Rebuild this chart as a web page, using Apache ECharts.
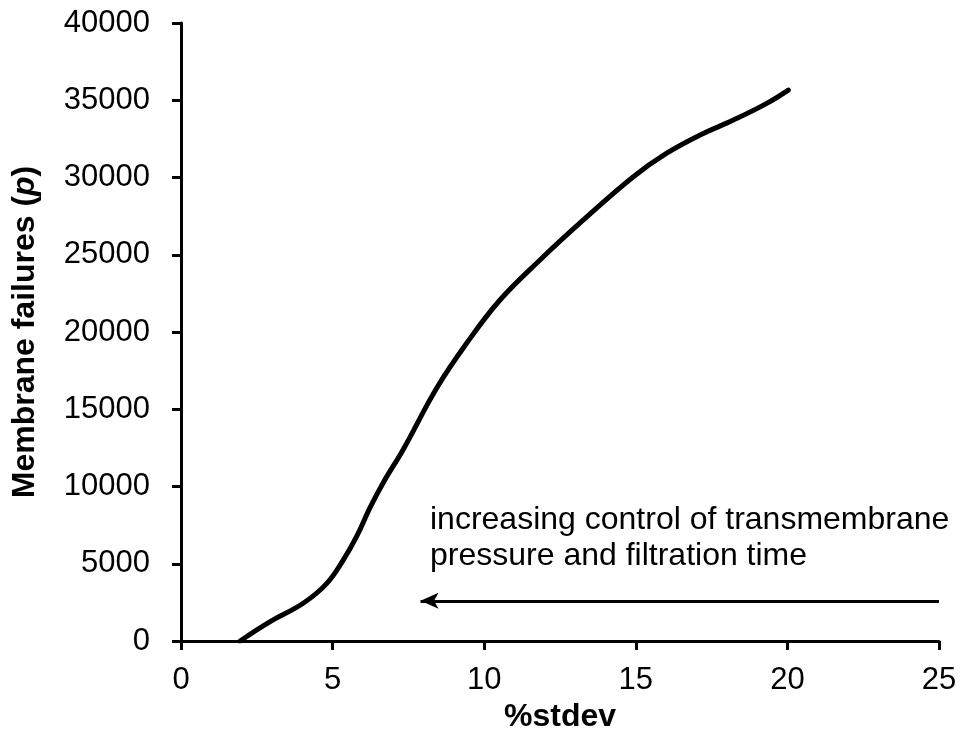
<!DOCTYPE html>
<html>
<head>
<meta charset="utf-8">
<script src="https://cdn.jsdelivr.net/npm/echarts@6/dist/echarts.min.js"></script>
<style>
  html, body { margin: 0; padding: 0; background: #fff; }
  #chart { width: 960px; height: 735px; }
</style>
</head>
<body>
<div id="chart"></div>
<script>
// %stdev of the process (x) and the resulting number of membrane failures (y)
const stdevPct = [1.95, 2.94, 4.03, 4.81, 5.35, 5.79, 6.23, 6.67, 7.33, 8.43, 9.42, 10.52, 11.84, 13.27, 14.92, 16.02, 17.12, 18.22, 19.32, 20.03];
const failures = [0, 1250, 2440, 3730, 5240, 6750, 8620, 10250, 12400, 16360, 19270, 22070, 24660, 27250, 30050, 31570, 32750, 33720, 34800, 35660];

// Annotation arrow (data coordinates: tail on the right, head on the left)
const arrowFrom = [25, 2600];
const arrowTo = [7.9, 2600];
const noteLines = ['increasing control of transmembrane', 'pressure and filtration time'];

const FONT = 'Liberation Sans, Arial, sans-serif';
const fmt = v => String(v);

const chart = echarts.init(document.getElementById('chart'), null, { renderer: 'canvas' });

chart.setOption({
  animation: false,
  backgroundColor: '#ffffff',
  grid: { left: 181, right: 21, top: 23, bottom: 94, containLabel: false, outerBoundsMode: 'none' },
  xAxis: {
    type: 'value',
    min: 0, max: 25, interval: 5,
    name: '%stdev',
    nameLocation: 'middle',
    nameGap: 58,
    nameTextStyle: { fontFamily: FONT, fontSize: 32, fontWeight: 'bold', color: '#000' },
    axisLine: { onZero: false, lineStyle: { color: '#000', width: 3 } },
    axisTick: { show: true, length: 9, inside: false, lineStyle: { color: '#000', width: 3 } },
    axisLabel: { margin: 24, fontFamily: FONT, fontSize: 31, color: '#000', formatter: fmt },
    splitLine: { show: false }
  },
  yAxis: {
    type: 'value',
    min: 0, max: 40000, interval: 5000,
    name: '{b|Membrane failures (}{i|p}{b|)}',
    nameLocation: 'middle',
    nameRotate: 90,
    nameGap: 140,
    nameTextStyle: {
      rich: {
        b: { fontFamily: FONT, fontSize: 32, fontWeight: 'bold', color: '#000' },
        i: { fontFamily: FONT, fontSize: 32, fontWeight: 'bold', fontStyle: 'italic', color: '#000' }
      }
    },
    axisLine: { show: true, onZero: false, lineStyle: { color: '#000', width: 3 } },
    axisTick: { show: true, length: 9, inside: false, lineStyle: { color: '#000', width: 3 } },
    axisLabel: { margin: 31, fontFamily: FONT, fontSize: 31, color: '#000', formatter: fmt },
    splitLine: { show: false }
  },
  series: [
    {
      type: 'line',
      data: stdevPct.map((x, i) => [x, failures[i]]),
      smooth: 0.4,
      showSymbol: false,
      symbol: 'none',
      lineStyle: { color: '#000', width: 5, cap: 'round', join: 'round' },
      markLine: {
        silent: true,
        symbol: ['none', 'arrow'],
        symbolSize: [12, 18],
        label: { show: false },
        lineStyle: { color: '#000', width: 3, type: 'solid' },
        data: [[{ coord: arrowFrom }, { coord: arrowTo }]]
      }
    }
  ],
  graphic: [
    {
      type: 'text',
      left: 430,
      top: 502,
      style: {
        text: noteLines.join('\n'),
        fontFamily: FONT,
        fontSize: 32,
        lineHeight: 36,
        fill: '#000'
      }
    }
  ]
});
</script>
</body>
</html>
